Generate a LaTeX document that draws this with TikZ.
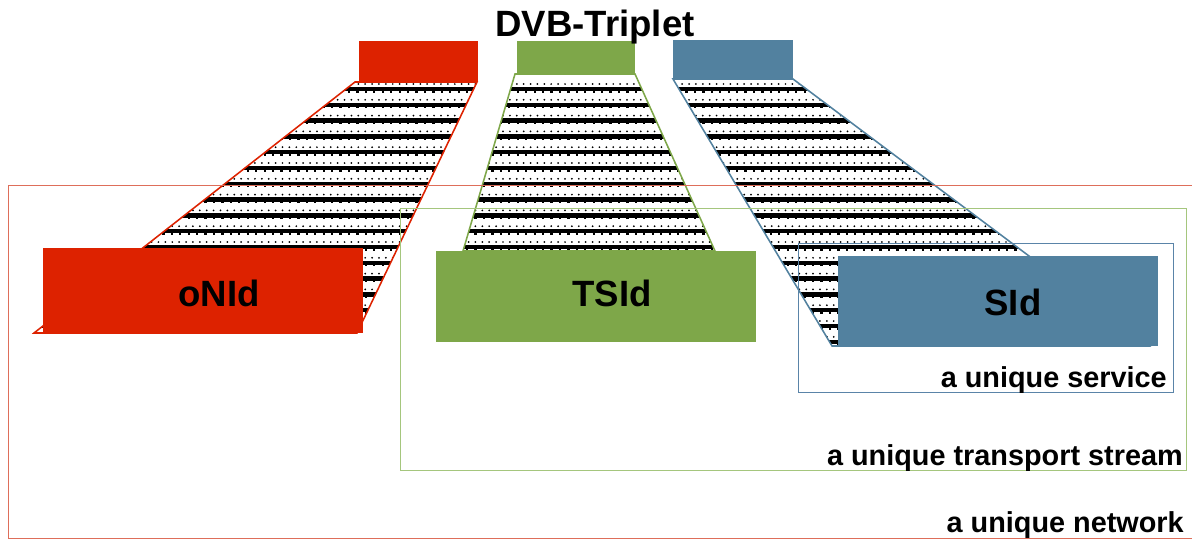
\documentclass[tikz,border=0pt]{standalone}
\usepackage{fontspec}
\setmainfont{Liberation Sans}
\definecolor{dvbred}{RGB}{221,34,0}
\definecolor{dvbgreen}{RGB}{126,167,73}
\definecolor{dvbblue}{RGB}{82,129,159}
\definecolor{netline}{RGB}{222,110,90}
\definecolor{tsline}{RGB}{165,198,125}
\definecolor{svline}{RGB}{90,132,168}
\tikzset{
  idbox/.style={inner sep=0pt, draw=none},
  idtext/.style={inner sep=0pt, font=\bfseries\fontsize{26}{30}\selectfont},
  scopelabel/.style={inner sep=0pt, anchor=base east, font=\bfseries\fontsize{20.5}{24}\selectfont},
}
% dotted and thick rows of the hatch, drawn inside a clip
\newcommand{\stripes}{%
  \foreach \i in {0,...,17} {
    \draw[black, line width=1.4pt, line cap=round, dash pattern=on 0pt off 4.9pt] (0,84+15.8*\i) -- (1192,84+15.8*\i);
    \draw[black, line width=3pt] (0,89+15.8*\i) -- (1192,89+15.8*\i);
    \draw[black, line width=1.6pt, dash pattern=on 1.6pt off 4.4pt] (2,91.5+15.8*\i) -- (1192,91.5+15.8*\i);
  }}

\begin{document}
\begin{tikzpicture}[x=0.025cm, y=-0.025cm]
\useasboundingbox (0,0) rectangle (1192,541);
\clip (0,0) rectangle (1192,541);

% hatched funnels
\begin{scope}
\clip (355,82) -- (477,82) -- (357,333) -- (34,333) -- cycle;
\stripes
\end{scope}
\draw[dvbred, line width=1.1pt] (355,82) -- (477,82) -- (357,333) -- (34,333) -- cycle;
\begin{scope}
\clip (515,74) -- (635,74) -- (715,251) -- (463,251) -- cycle;
\stripes
\end{scope}
\draw[dvbgreen, line width=1.1pt] (515,74) -- (635,74) -- (715,251) -- (463,251) -- cycle;
\begin{scope}
\clip (673,79) -- (793,79) -- (1149,346) -- (832,346) -- cycle;
\stripes
\end{scope}
\draw[dvbblue, line width=1.1pt] (673,79) -- (793,79) -- (1149,346) -- (832,346) -- cycle;

% scopes
\draw[netline, line width=0.7pt] (8,185) rectangle (1230,538);
\draw[tsline, line width=0.7pt] (400,208) rectangle (1186,470);
\draw[svline, line width=0.7pt] (798,243) rectangle (1173,392);

% boxes
\node[idbox, fill=dvbred, minimum width=2.975cm, minimum height=0.975cm] (topred) at (418.5,61) {};
\node[idbox, fill=dvbgreen, minimum width=2.95cm, minimum height=0.85cm] (topgreen) at (576,57.5) {};
\node[idbox, fill=dvbblue, minimum width=3cm, minimum height=0.975cm] (topblue) at (733,60) {};
\node[idbox, fill=dvbred, minimum width=8cm, minimum height=2.125cm] (onid) at (203,290.5) {};
\node[idbox, fill=dvbgreen, minimum width=8cm, minimum height=2.275cm] (tsid) at (596,296.5) {};
\node[idbox, fill=dvbblue, minimum width=8cm, minimum height=2.25cm] (sid) at (998,301) {};
\node[idtext] (onidlbl) at (219,293) {oNId};
\node[idtext] (tsidlbl) at (612,293) {TSId};
\node[idtext] (sidlbl) at (1013,302) {SId};

% labels
\node[idtext, anchor=base] (title) at (595,36) {DVB-Triplet};
\node[scopelabel] (svlbl) at (1167,387) {a unique service};
\node[scopelabel] (tslbl) at (1183,465) {a unique transport stream};
\node[scopelabel] (netlbl) at (1184,532) {a unique network};
\end{tikzpicture}
\end{document}
